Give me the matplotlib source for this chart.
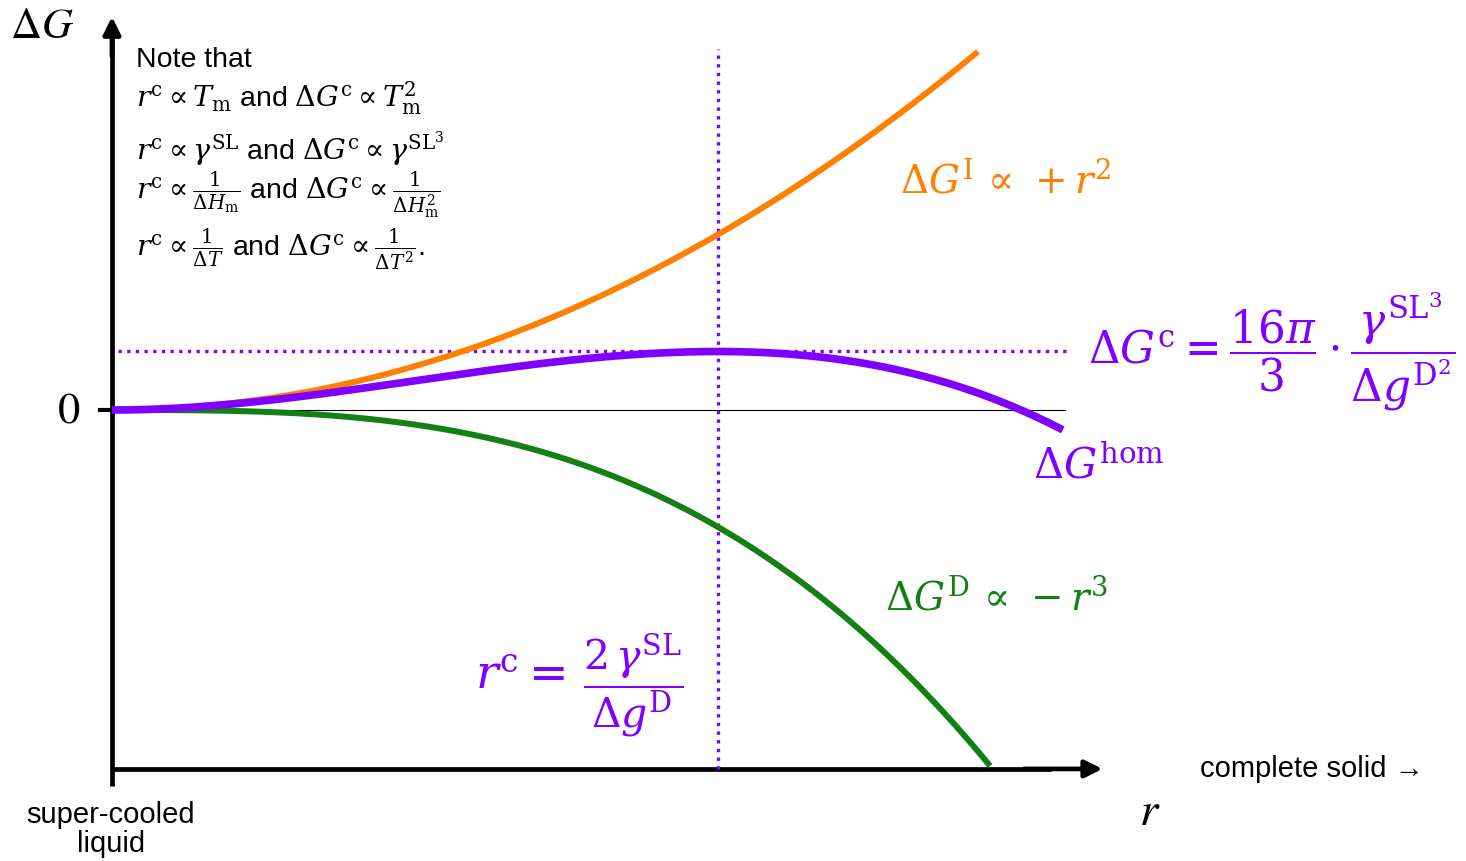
import numpy as np
import matplotlib.pyplot as plt

plt.rcParams['font.family'] = ['Liberation Sans', 'DejaVu Sans']
plt.rcParams['mathtext.fontset'] = 'stix'

# schematic nucleation model, r in units of r_c
r_crit = 1.0
coef_surface = 1.5        # dG_I = +coef_surface * r^2
coef_volume = 1.0         # dG_D = -coef_volume * r^3
r_end_surface = 1.429
r_end_volume = 1.449
r_end_hom = 1.569

orange = '#ff8000'
purple = '#8000ff'
green = '#138013'
mf = 'dejavuserif'

r_s = np.linspace(0, r_end_surface, 300)
r_v = np.linspace(0, r_end_volume, 300)
r_h = np.linspace(0, r_end_hom, 300)
dG_surface = coef_surface * r_s**2
dG_volume = -coef_volume * r_v**3
dG_hom = coef_surface * r_h**2 - coef_volume * r_h**3
dG_crit = coef_surface * r_crit**2 - coef_volume * r_crit**3

fig = plt.figure(figsize=(14.66, 8.62), dpi=100)
ax = fig.add_axes([0, 0, 1, 1])
ax.set_xlim(-0.1848, 2.2343)
ax.set_ylim(-3.855, 3.513)
ax.axis('off')

y_bottom = -3.068

# axes with arrow heads
ax.plot([0, 0], [y_bottom - 0.15, 3.2], color='black', lw=3.4, solid_capstyle='butt')
ax.annotate('', xy=(0, 3.385), xytext=(0, 3.0),
            arrowprops=dict(arrowstyle='-|>', color='black', lw=3.4, mutation_scale=26))
ax.plot([0, 1.55], [y_bottom, y_bottom], color='black', lw=3.4, solid_capstyle='butt')
ax.annotate('', xy=(1.639, y_bottom), xytext=(1.5, y_bottom),
            arrowprops=dict(arrowstyle='-|>', color='black', lw=3.4, mutation_scale=26))
ax.plot([-0.02, 0], [0, 0], color='black', lw=3)
ax.plot([0, 1.573], [0, 0], color='black', lw=0.8)

# critical radius / critical energy guides
ax.plot([0.01, 1.578], [dG_crit, dG_crit], color=purple, lw=2.4, linestyle=(0, (1, 1.6)))
ax.plot([r_crit, r_crit], [y_bottom, 3.085], color=purple, lw=2.4, linestyle=(0, (1, 1.6)))

ax.plot(r_s, dG_surface, color=orange, lw=4.3, solid_capstyle='butt')
ax.plot(r_v, dG_volume, color=green, lw=4.3, solid_capstyle='butt')
ax.plot(r_h, dG_hom, color=purple, lw=5.5, solid_capstyle='butt')

# axis labels
ax.text(-0.115, 3.28, r'$\Delta G$', fontsize=31, ha='center', va='center')
ax.text(-0.072, 0, r'$0$', fontsize=32, ha='center', va='center')
ax.text(1.713, -3.44, r'$r$', fontsize=34, ha='center', va='center')
ax.text(1.795, -3.063, 'complete solid →', fontsize=21, ha='left', va='center')
ax.text(-0.002, -3.58, 'super-cooled\nliquid', fontsize=21, ha='center', va='center',
        linespacing=1.05)

# curve labels
ax.text(1.3, 1.97, r'$\Delta G^{\mathrm{I}}\,\propto\,+r^2$', fontsize=28, color=orange,
        ha='left', va='center', math_fontfamily=mf)
ax.text(1.276, -1.6, r'$\Delta G^{\mathrm{D}}\,\propto\,-r^3$', fontsize=28, color=green,
        ha='left', va='center', math_fontfamily=mf)
ax.text(1.52, -0.47, r'$\Delta G^{\mathrm{hom}}$', fontsize=30, color=purple,
        ha='left', va='center', math_fontfamily=mf)
ax.text(1.611, 0.51,
        r'$\Delta G^{\mathrm{c}} = \dfrac{16\pi}{3}\cdot\dfrac{\gamma^{\mathrm{SL}^{3}}}{\Delta g^{\mathrm{D}^{2}}}$',
        fontsize=31.5, color=purple, ha='left', va='center', math_fontfamily=mf)
ax.text(0.599, -2.28, r'$r^{\mathrm{c}} =$',
        fontsize=34, color=purple, ha='left', va='center', math_fontfamily=mf)
ax.text(0.777, -2.34, r'$\dfrac{2\,\gamma^{\mathrm{SL}}}{\Delta g^{\mathrm{D}}}$',
        fontsize=29.5, color=purple, ha='left', va='center', math_fontfamily=mf)

# note block
note_x = 0.04
ax.text(note_x, 3.00, 'Note that', fontsize=20.5, ha='left', va='center')
ax.text(note_x, 2.67, r'$r^{\mathrm{c}}\propto T_{\mathrm{m}}$ and $\Delta G^{\mathrm{c}}\propto T_{\mathrm{m}}^2$',
        fontsize=20.5, ha='left', va='center', math_fontfamily=mf)
ax.text(note_x, 2.24, r'$r^{\mathrm{c}}\propto \gamma^{\mathrm{SL}}$ and $\Delta G^{\mathrm{c}}\propto \gamma^{\mathrm{SL}^{3}}$',
        fontsize=20.5, ha='left', va='center', math_fontfamily=mf)
ax.text(note_x, 1.84, r'$r^{\mathrm{c}}\propto \frac{1}{\Delta H_{\mathrm{m}}}$ and $\Delta G^{\mathrm{c}}\propto \frac{1}{\Delta H_{\mathrm{m}}^2}$',
        fontsize=20.5, ha='left', va='center', math_fontfamily=mf)
ax.text(note_x, 1.38, r'$r^{\mathrm{c}}\propto \frac{1}{\Delta T}$ and $\Delta G^{\mathrm{c}}\propto \frac{1}{\Delta T^2}$.',
        fontsize=20.5, ha='left', va='center', math_fontfamily=mf)

fig.savefig('out.png', dpi=100, facecolor='white')
